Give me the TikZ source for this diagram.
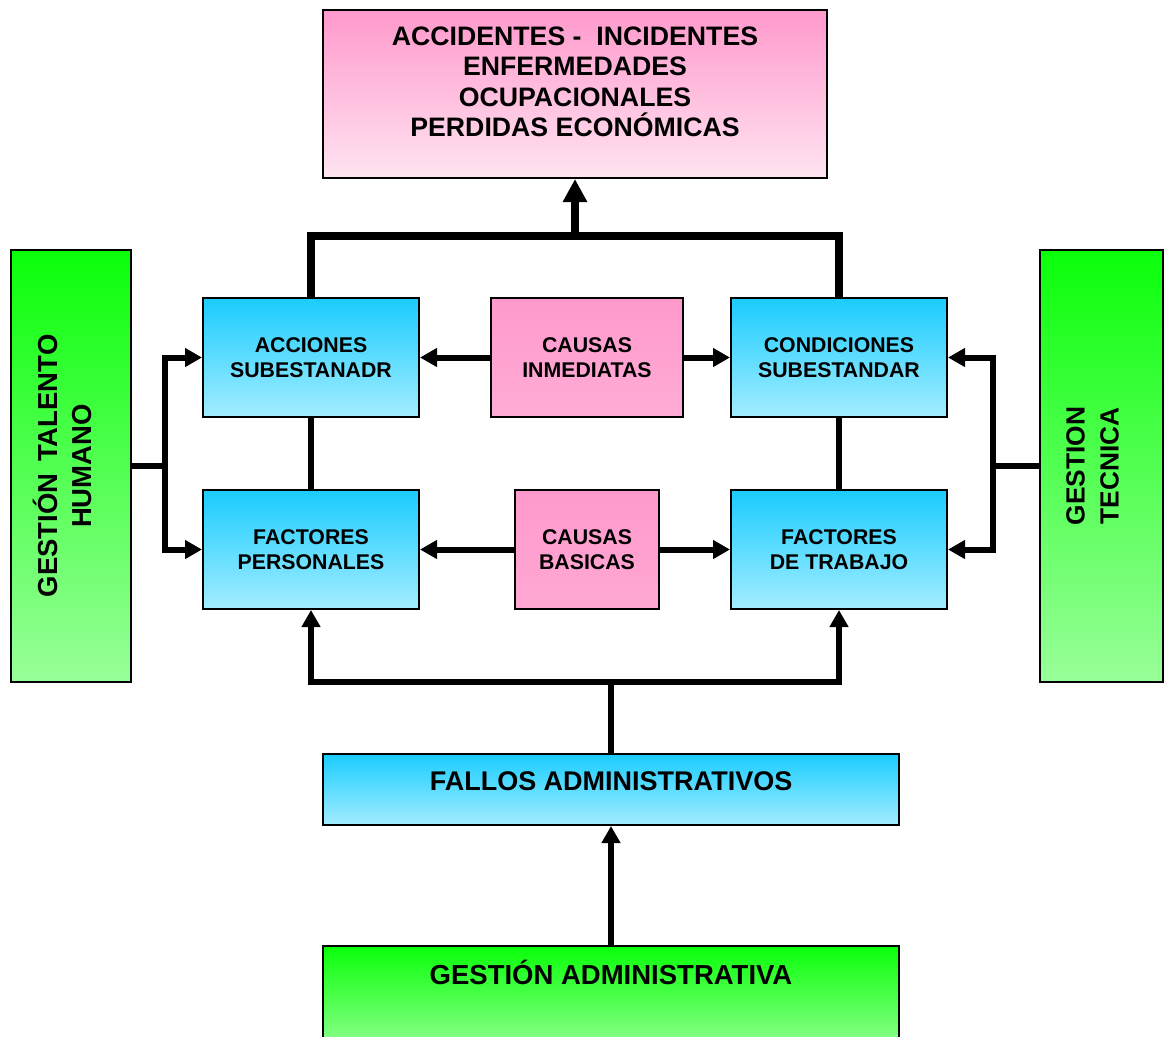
\documentclass[tikz,border=0pt]{standalone}
\usepackage{fontspec}
\setmainfont{Liberation Sans}
\usetikzlibrary{arrows.meta}
\definecolor{pinktop}{HTML}{FF99CC}
\definecolor{pinkbot}{HTML}{FFE4F1}
\definecolor{pinkmid}{HTML}{FFACD6}
\definecolor{bluetop}{HTML}{1ACCFF}
\definecolor{bluebot}{HTML}{A3EDFF}
\definecolor{greentop}{HTML}{0AFF0A}
\definecolor{greenbot}{HTML}{99FF99}
\tikzset{
  boxbase/.style={draw=black, line width=2pt, inner sep=0pt, font=\bfseries},
  bluebox/.style={boxbase, top color=bluetop, bottom color=bluebot, minimum width=216pt, minimum height=119pt, align=center, font=\bfseries\fontsize{21.3}{25}\selectfont},
  pinkbox/.style={boxbase, top color=pinktop, bottom color=pinkmid, minimum height=119pt, align=center, font=\bfseries\fontsize{21.3}{25}\selectfont},
  greenbox/.style={boxbase, top color=greentop, bottom color=greenbot},
  conn/.style={line width=6pt, -{Triangle[length=17pt,width=18pt]}},
  plainline/.style={line width=6pt},
  heavyline/.style={line width=8pt},
}
\begin{document}
\begin{tikzpicture}[x=1pt,y=-1pt]
\clip (0,0) rectangle (1171,1037);
\fill[white] (0,0) rectangle (1171,1037);

% top box
\node[boxbase, top color=pinktop, bottom color=pinkbot, minimum width=504pt, minimum height=168pt,
  label={[yshift=12pt, align=center, font=\bfseries\fontsize{26.7}{30.5}\selectfont]center:ACCIDENTES -\ \ INCIDENTES\\ENFERMEDADES\\OCUPACIONALES\\PERDIDAS ECONÓMICAS}]
  (top) at (575,94) {};

% middle row
\node[bluebox] (acc) at (311,357.5) {ACCIONES\\SUBESTANADR};
\node[pinkbox, minimum width=192pt] (ci) at (587,357.5) {CAUSAS\\INMEDIATAS};
\node[bluebox] (cond) at (839,357.5) {CONDICIONES\\SUBESTANDAR};

\node[bluebox] (fp) at (311,549.5) {FACTORES\\PERSONALES};
\node[pinkbox, minimum width=144pt, top color=pinktop, bottom color=pinktop!85!white] (cb) at (587,549.5) {CAUSAS\\BASICAS};
\node[bluebox] (ft) at (839,549.5) {FACTORES\\DE TRABAJO};

% side boxes
\node[greenbox, minimum width=120pt, minimum height=432pt,
  label={[xshift=-9pt, rotate=90, align=center, font=\bfseries\fontsize{27.5}{34}\selectfont]center:GESTIÓN\ \hspace{4pt}TALENTO\\HUMANO}]
  (gth) at (71,466) {};
\node[greenbox, minimum width=123pt, minimum height=432pt,
  label={[xshift=-9pt, rotate=90, align=center, font=\bfseries\fontsize{26.3}{34}\selectfont]center:GESTION\\TECNICA}]
  (gt) at (1101.5,466) {};

% bottom boxes
\node[boxbase, top color=bluetop, bottom color=bluebot, minimum width=576pt, minimum height=71pt,
  label={[yshift=8.5pt, font=\bfseries\fontsize{27}{30}\selectfont]center:FALLOS ADMINISTRATIVOS}]
  (fa) at (611,789.5) {};
\node[greenbox, minimum width=576pt, minimum height=110pt,
  label={[yshift=29pt, font=\bfseries\fontsize{27.5}{30}\selectfont]center:GESTIÓN ADMINISTRATIVA}]
  (ga) at (611,1001) {};

% coordinates
\coordinate (tj) at (575,236);
\coordinate (lj) at (165,466);
\coordinate (rj) at (993,466);
\coordinate (bj) at (611,682);

% top bracket
\draw[heavyline] (acc.north) -- (acc.north |- tj) -- (cond.north |- tj) -- (cond.north);
\draw[heavyline, -{Triangle[length=23pt,width=23pt]}] (tj) -- (top.south);

% vertical links between rows
\draw[plainline] (acc.south) -- (fp.north);
\draw[plainline] (cond.south) -- (ft.north);

% causes arrows
\draw[conn] (ci.west) -- (acc.east);
\draw[conn] (ci.east) -- (cond.west);
\draw[conn] (cb.west) -- (fp.east);
\draw[conn] (cb.east) -- (ft.west);

% left
\draw[plainline] (gth.east) -- (lj);
\draw[conn] (lj) |- (acc.west);
\draw[conn] (lj) |- (fp.west);
\draw[plainline] (lj |- acc.west) -- (lj |- fp.west);

% right
\draw[plainline] (gt.west) -- (rj);
\draw[conn] (rj) |- (cond.east);
\draw[conn] (rj) |- (ft.east);
\draw[plainline] (rj |- cond.east) -- (rj |- ft.east);

% bottom bracket
\draw[plainline] (fa.north) -- (bj);
\draw[conn] (bj) -| (fp.south);
\draw[conn] (bj) -| (ft.south);
\draw[conn] (ga.north) -- (fa.south);
\end{tikzpicture}
\end{document}
